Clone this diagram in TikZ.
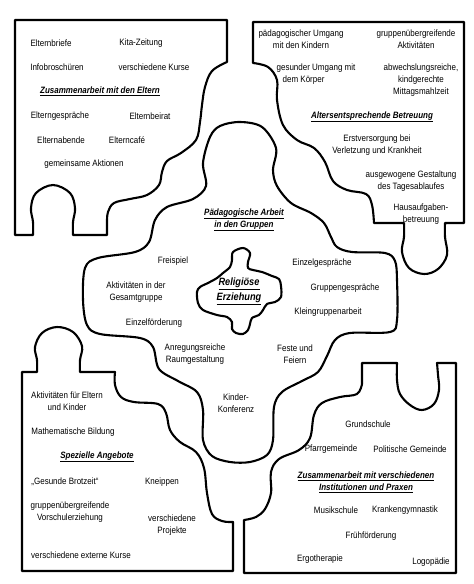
\documentclass[tikz,border=0pt]{standalone}
\usepackage{fontspec}
\setmainfont{Liberation Sans}[FakeStretch=0.87]
\begin{document}
\begin{tikzpicture}[x=1pt,y=-1pt,
  piece/.style={line width=2.1pt, line join=round, draw=black},
  sm/.style={smooth, tension=0.6},
  lbl/.style={font=\fontsize{9.2}{12}\selectfont, align=center, inner sep=0pt},
  hd/.style={font=\fontsize{9.2}{12}\selectfont\bfseries\itshape, align=center, inner sep=0pt},
  bighd/.style={font=\fontsize{10.6}{15}\selectfont\bfseries\itshape, align=center, inner sep=0pt}]
\useasboundingbox (0,0) rectangle (474,584);

% --- top-left piece: Zusammenarbeit mit den Eltern
\draw[piece] (15,20) -- (227,20) -- (227,62)
  -- plot[sm] coordinates {(227,62) (212,71) (205,87) (202,105) (200,122) (196,140) (181,153) (167,161) (162,172) (159,185) (147,195) (130,199) (114,203) (108,212) (107,222)}
  -- (107,235) -- (73,235)
  -- plot[sm] coordinates {(73,235) (73,222) (75,208) (70,193) (53,185) (36,193) (31,208) (33,222) (33,235)}
  -- (15,235) -- cycle;

% --- top-right piece: Altersentsprechende Betreuung
\draw[piece] (253,22) -- (464,22) -- (464,223) -- (445,223)
  -- plot[sm] coordinates {(445,223) (445,237) (447,255) (438,269) (424,274) (409,268) (402,252) (404,237) (404,223)}
  -- (374,223)
  -- plot[sm] coordinates {(374,223) (372,205) (366,194) (347,190) (333,181) (325,162) (314,148) (297,140) (283,125) (277,100) (277,80) (268,67) (253,63)}
  -- cycle;

% --- central piece: Paedagogische Arbeit in den Gruppen
\draw[piece] plot[smooth cycle, tension=0.55] coordinates {
  (240,122) (262,127) (276,148) (273,170) (277,186) (291,203) (311,213) (324,223) (331,237) (337,247) (352,252) (385,253) (395,261) (397,280)
  (397,320) (390,332) (350,333) (335,340) (327,356) (318,372) (302,381) (282,392) (274,407) (273,440) (267,455) (250,462) (230,462) (212,456)
  (203,440) (203,410) (197,392) (178,381) (159,369) (153,347) (140,338) (100,334) (87,325) (83,300) (85,268) (98,258) (135,252) (149,242)
  (155,220) (167,207) (193,199) (206,186) (203,163) (210,137) (220,126)};

% --- inner piece: Religioese Erziehung
\draw[piece] plot[smooth cycle, tension=0.55] coordinates {
  (243,248) (250,253) (248,262) (248,268) (253,270) (262,272) (272,276) (279,279) (281,286) (281,297) (275,302) (267,304) (263,310) (259,315)
  (252,318) (250,324) (248,330) (243,334) (236,333) (232,329) (232,322) (227,317) (217,315) (203,310) (198,303) (197,292) (200,287) (208,283)
  (217,278) (223,273) (230,267) (232,260) (233,252)};

% --- bottom-left piece: Spezielle Angebote
\draw[piece] (22,372) -- (37,372)
  -- plot[sm] coordinates {(37,372) (37,360) (35,347) (42,333) (57,327) (73,332) (82,346) (80,360) (80,372)}
  -- (115,372)
  -- plot[sm] coordinates {(115,372) (115,385) (121,397) (134,402) (158,404) (166,413) (170,430) (180,442) (196,452) (204,468) (207,493) (212,514) (222,521) (233,522)}
  -- (233,571) -- (22,571) -- cycle;

% --- bottom-right piece: Zusammenarbeit mit verschiedenen Institutionen
\draw[piece] (362,363) -- (397,363)
  -- plot[sm] coordinates {(397,363) (397,380) (400,394) (410,405) (422,410) (434,404) (439,390) (438,375) (437,363)}
  -- (456,363) -- (456,573) -- (244,573) -- (244,520)
  -- plot[sm] coordinates {(244,520) (256,517) (265,509) (271,493) (271,472) (279,459) (299,450) (310,438) (314,415) (322,403) (340,397) (357,394) (362,384)}
  -- cycle;

% --- texts: Eltern
\node[lbl] (e1) at (51,43) {Elternbriefe};
\node[lbl] (e2) at (141,43) {Kita-Zeitung};
\node[lbl] (e3) at (57,67) {Infobroschüren};
\node[lbl] (e4) at (154,67) {verschiedene Kurse};
\node[hd]  (eh) at (100,91) {\underline{Zusammenarbeit mit den Eltern}};
\node[lbl] (e5) at (60,116) {Elterngespräche};
\node[lbl] (e6) at (150,116) {Elternbeirat};
\node[lbl] (e7) at (61,140) {Elternabende};
\node[lbl] (e8) at (127,140) {Elterncafé};
\node[lbl] (e9) at (84,164) {gemeinsame Aktionen};

% --- texts: Betreuung
\node[lbl] (b1) at (301,39) {pädagogischer Umgang\\mit den Kindern};
\node[lbl] (b2) at (416,39) {gruppenübergreifende\\Aktivitäten};
\node[lbl,align=left] (b3) at (316,74) {gesunder Umgang mit\\\hspace{6pt}dem Körper};
\node[lbl] (b4) at (421,80) {abwechslungsreiche,\\kindgerechte\\Mittagsmahlzeit};
\node[hd]  (bh) at (372,117) {\underline{Altersentsprechende Betreuung}};
\node[lbl] (b5) at (377,145) {Erstversorgung bei\\Verletzung und Krankheit};
\node[lbl] (b6) at (411,181) {ausgewogene Gestaltung\\des Tagesablaufes};
\node[lbl] (b7) at (421,214) {Hausaufgaben-\\betreuung};

% --- texts: Paedagogische Arbeit
\node[hd]  (ph) at (244,220) {\underline{Pädagogische Arbeit}\\\underline{in den Gruppen}};
\node[lbl] (p1) at (173,261) {Freispiel};
\node[lbl] (p2) at (136,292) {Aktivitäten in der\\Gesamtgruppe};
\node[lbl] (p3) at (154,323) {Einzelförderung};
\node[lbl] (p4) at (195,354) {Anregungsreiche\\Raumgestaltung};
\node[lbl] (p5) at (295,354) {Feste und\\Feiern};
\node[lbl] (p6) at (236,403) {Kinder-\\Konferenz};
\node[lbl] (p7) at (322,263) {Einzelgespräche};
\node[lbl] (p8) at (345,288) {Gruppengespräche};
\node[lbl] (p9) at (328,312) {Kleingruppenarbeit};
\node[bighd] (rh) at (239,291) {\underline{Religiöse}\\\underline{Erziehung}};

% --- texts: Spezielle Angebote
\node[lbl] (s1) at (67,401) {Aktivitäten für Eltern\\und Kinder};
\node[lbl] (s2) at (73,432) {Mathematische Bildung};
\node[hd]  (sh) at (97,457) {\underline{Spezielle Angebote}};
\node[lbl] (s3) at (65,482) {„Gesunde Brotzeit“};
\node[lbl] (s4) at (162,482) {Kneippen};
\node[lbl] (s5) at (70,512) {gruppenübergreifende\\Vorschulerziehung};
\node[lbl] (s6) at (172,525) {verschiedene\\Projekte};
\node[lbl] (s7) at (81,555) {verschiedene externe Kurse};

% --- texts: Institutionen
\node[lbl] (i1) at (368,424) {Grundschule};
\node[lbl] (i2) at (331,449) {Pfarrgemeinde};
\node[lbl] (i3) at (410,449) {Politische Gemeinde};
\node[hd]  (ih) at (366,482) {\underline{Zusammenarbeit mit verschiedenen}\\\underline{Institutionen und Praxen}};
\node[lbl] (i4) at (336,510) {Musikschule};
\node[lbl] (i5) at (405,510) {Krankengymnastik};
\node[lbl] (i6) at (371,536) {Frühförderung};
\node[lbl] (i7) at (320,559) {Ergotherapie};
\node[lbl] (i8) at (431,562) {Logopädie};
\end{tikzpicture}
\end{document}
